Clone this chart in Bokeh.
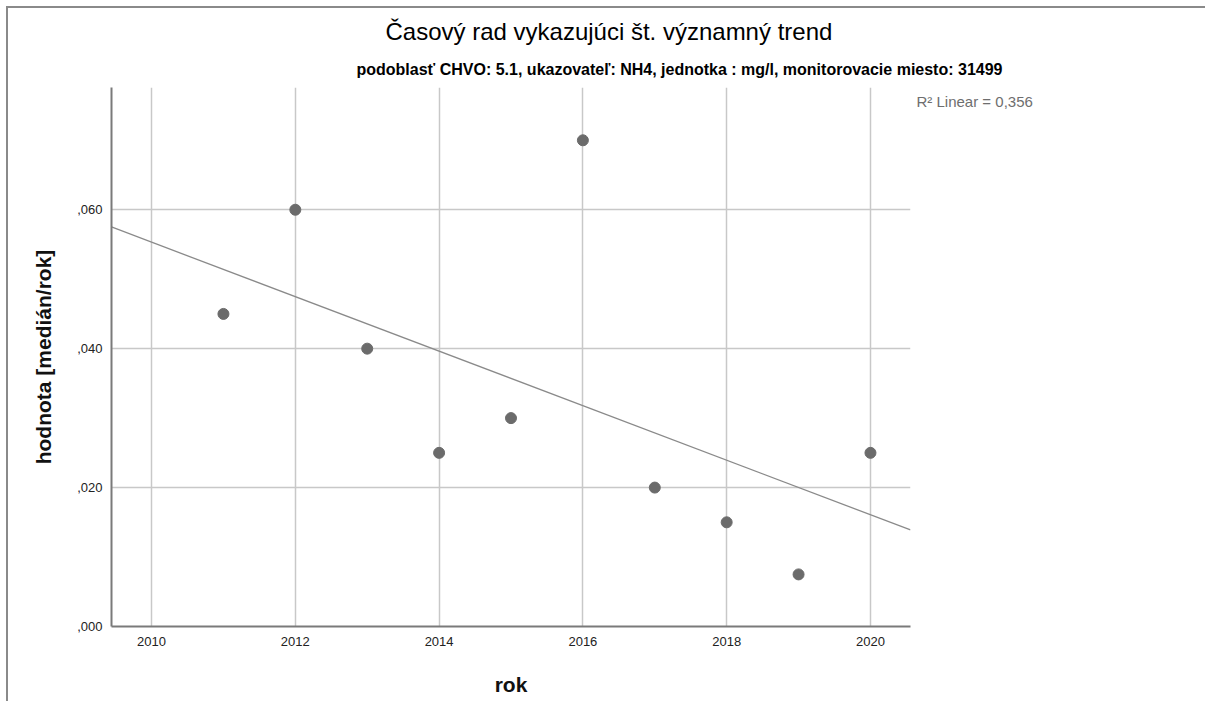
import numpy as np
from bokeh.plotting import figure
from bokeh.models import Range1d, FixedTicker, Title, LinearAxis
from bokeh.embed import file_html
from bokeh.resources import INLINE

# ---- data ----
years = [2011, 2012, 2013, 2014, 2015, 2016, 2017, 2018, 2019, 2020]
values = [0.045, 0.060, 0.040, 0.025, 0.030, 0.070, 0.020, 0.015, 0.0075, 0.025]
x_ticks = [2010, 2012, 2014, 2016, 2018, 2020]
y_ticks = [0.0, 0.02, 0.04, 0.06]
y_tick_labels = [",000", ",020", ",040", ",060"]
title_text = "Časový rad vykazujúci št. významný trend"
subtitle_text = "podoblasť CHVO: 5.1, ukazovateľ: NH4, jednotka : mg/l, monitorovacie miesto: 31499"
x_label = "rok"
y_label = "hodnota [medián/rok]"

FONT = "Liberation Sans"
x0, x1 = 2009.443, 2020.557
y0, y1 = 0.0, 0.0776
R2_NOTE_Y = 0.0756   # vertical placement of the R² note (layout only)

p = figure(width=1199, height=695, output_backend="svg", toolbar_location=None,
           x_range=Range1d(x0, x1), y_range=Range1d(y0, y1),
           min_border_left=103, min_border_right=297, min_border_top=79, min_border_bottom=77)
p.styles = {"border-top": "2px solid #8a8a8a", "border-left": "2px solid #8a8a8a",
            "margin-left": "6px", "margin-top": "6px"}
p.outline_line_color = None
p.background_fill_color = "white"
p.border_fill_color = "white"

# grid
p.xgrid.ticker = FixedTicker(ticks=x_ticks)
p.ygrid.ticker = FixedTicker(ticks=y_ticks)
for g in (p.xgrid, p.ygrid):
    g.grid_line_color = "#c8c8c8"
    g.grid_line_width = 1.5

# axes
for ax in (p.xaxis, p.yaxis):
    ax.axis_line_color = "#7a7a7a"
    ax.axis_line_width = 2
    ax.major_tick_line_color = None
    ax.minor_tick_line_color = None
    ax.major_label_text_font = FONT
    ax.major_label_text_font_size = "13px"
    ax.major_label_text_color = "#222222"
    ax.axis_label_text_font = FONT
    ax.axis_label_text_font_style = "bold"
    ax.axis_label_text_font_size = "21px"
    ax.axis_label_text_color = "#111111"

p.xaxis.ticker = FixedTicker(ticks=x_ticks)
p.yaxis.ticker = FixedTicker(ticks=y_ticks)
p.yaxis.major_label_overrides = {t: l for t, l in zip(y_ticks, y_tick_labels)}
p.xaxis.major_label_overrides = {t: str(t) for t in x_ticks}
p.xaxis.major_label_standoff = 4
p.yaxis.major_label_standoff = 3
p.xaxis.axis_label = x_label
p.yaxis.axis_label = y_label
p.xaxis.axis_label_standoff = 24
p.yaxis.axis_label_standoff = 19

# regression line from the data
xa = np.array(years, dtype=float)
ya = np.array(values)
slope, intercept = np.polyfit(xa, ya, 1)
pred = slope * xa + intercept
r2 = 1 - np.sum((ya - pred) ** 2) / np.sum((ya - ya.mean()) ** 2)
lx = [x0, x1]
ly = [slope * x0 + intercept, slope * x1 + intercept]
p.line(lx, ly, line_color="#8a8a8a", line_width=1.3)

# points
p.scatter(years, values, size=11, fill_color="#6b6b6b", line_color="#6b6b6b")

# R² note on the right side, outside the plot area
r2_axis = LinearAxis(ticker=FixedTicker(ticks=[R2_NOTE_Y]),
                     major_label_overrides={R2_NOTE_Y: f"R² Linear = {r2:.3f}".replace(".", ",")},
                     axis_line_color=None, major_tick_line_color=None, minor_tick_line_color=None,
                     major_label_standoff=0, major_label_text_font=FONT,
                     major_label_text_font_size="15px", major_label_text_color="#6e6e6e")
p.add_layout(r2_axis, "right")

# titles (subtitle closest to the frame)
p.title = Title(text=title_text, align="left", offset=274, text_font=FONT,
                text_font_size="24px", text_font_style="normal", text_color="#000000",
                standoff=9)
p.add_layout(Title(text=subtitle_text, align="left", offset=245, text_font=FONT,
                   text_font_size="16px", text_font_style="bold", text_color="#000000",
                   standoff=19), "above")

open("out.html", "w").write(file_html(p, INLINE))
